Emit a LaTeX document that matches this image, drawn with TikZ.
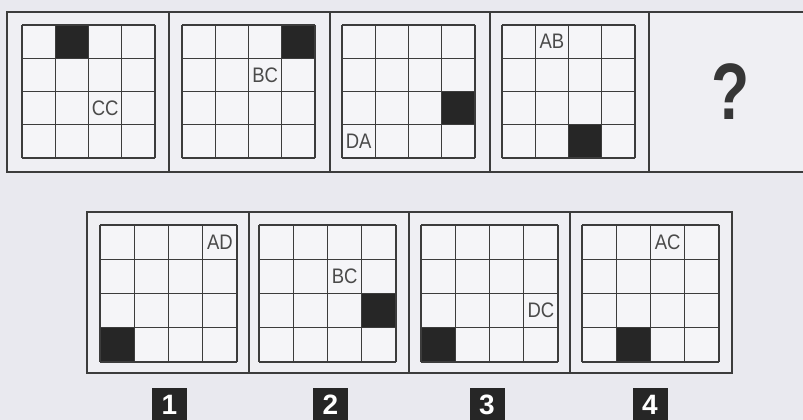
\documentclass[tikz,border=0pt]{standalone}
\usepackage{fontspec}
\setmainfont{Liberation Sans}
\newfontfamily\narrowfont[FakeStretch=0.88]{Liberation Sans}
\newfontfamily\qfont[FakeStretch=0.78]{Liberation Sans Bold}
\definecolor{pagebg}{HTML}{E9E9EF}
\definecolor{panelbg}{HTML}{EFEFF3}
\definecolor{cellbg}{HTML}{F5F5F8}
\definecolor{blk}{HTML}{262626}
\definecolor{linec}{HTML}{3C3C3C}
\definecolor{txtc}{HTML}{4A4A4A}
\tikzset{
  frame/.style={draw=linec, line width=1.8pt},
  gridline/.style={draw=linec, line width=1.4pt},
  celltext/.style={inner sep=0pt, text=txtc, font=\narrowfont\fontsize{21}{21}\selectfont},
  qmark/.style={inner sep=0pt, text=linec!90!black, font=\qfont\bfseries\fontsize{80}{80}\selectfont},
  numlab/.style={fill=blk, text=white, inner sep=0pt, minimum width=35pt, minimum height=34pt,
    font=\bfseries\fontsize{28}{28}\selectfont}
}
% #1 name, #2 x, #3 y, #4 size, #5 black col, #6 black row, #7 text col, #8 text row, #9 text
\newcommand\pgrid[9]{%
  \pgfmathsetmacro\cs{#4/4}%
  \fill[cellbg] (#2,#3) rectangle ++(#4,#4);
  \fill[blk] ({#2+#5*\cs},{#3+#6*\cs}) rectangle ++(\cs,\cs);
  \foreach \i in {0,...,4} {
    \draw[gridline] ({#2+\i*\cs},#3) -- ++(0,#4);
    \draw[gridline] (#2,{#3+\i*\cs}) -- ++(#4,0);
  }
  \node[celltext] (#1) at ({#2+(#7+0.5)*\cs},{#3+(#8+0.5)*\cs}) {#9};
}
\begin{document}
\begin{tikzpicture}[x=1pt,y=-1pt]
\useasboundingbox (0,0) rectangle (803,420);
\clip (0,0) rectangle (803,420);
\fill[pagebg] (0,0) rectangle (803,420);
% top row panels
\fill[panelbg] (7,12) rectangle (820,172);
\draw[frame] (7,12) rectangle (820,172);
\foreach \x in {169,330,490,649} \draw[frame] (\x,12) -- (\x,172);
\pgrid{t1}{22}{25}{133}{1}{0}{2}{2}{CC}
\pgrid{t2}{182}{25}{133}{3}{0}{2}{1}{BC}
\pgrid{t3}{342}{25}{133}{3}{2}{0}{3}{DA}
\pgrid{t4}{502}{25}{133}{2}{3}{1}{0}{AB}
\node[qmark] (q) at (731,92) {?};
% bottom row panels
\fill[panelbg] (87,212) rectangle (732,373);
\draw[frame] (87,212) rectangle (732,373);
\foreach \x in {249,409,570} \draw[frame] (\x,212) -- (\x,373);
\pgrid{b1}{100}{225}{137}{0}{3}{3}{0}{AD}
\pgrid{b2}{259}{225}{137}{3}{2}{2}{1}{BC}
\pgrid{b3}{421}{225}{137}{0}{3}{3}{2}{DC}
\pgrid{b4}{582}{225}{137}{1}{3}{2}{0}{AC}
% option labels
\node[numlab] (l1) at (169.5,405) {1};
\node[numlab] (l2) at (330.5,405) {2};
\node[numlab] (l3) at (487,405) {3};
\node[numlab] (l4) at (650,405) {4};
\end{tikzpicture}
\end{document}
